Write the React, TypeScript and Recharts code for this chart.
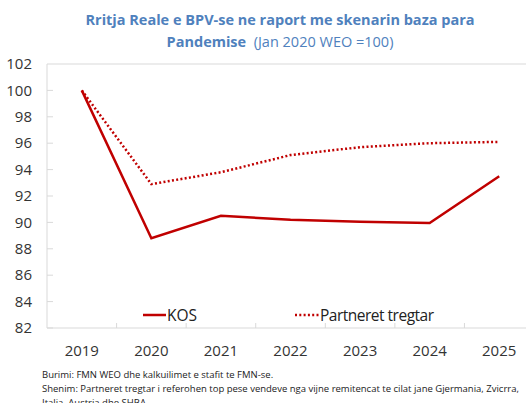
import { LineChart, Line, XAxis, YAxis, ReferenceLine } from 'recharts'

const years = [2019, 2020, 2021, 2022, 2023, 2024, 2025]
const kos = [100, 88.8, 90.5, 90.2, 90.05, 89.95, 93.5]
const partneret = [100, 92.9, 93.8, 95.1, 95.7, 96.0, 96.1]
const yTicks = [82, 84, 86, 88, 90, 92, 94, 96, 98, 100, 102]

const data = years.map((year, i) => ({ year, kos: kos[i], partneret: partneret[i] }))

const RED = '#c00000'
const AXIS = '#d9d9d9'
const FONT = '"Open Sans", sans-serif'

// tick i majtë: etiketa + vija e vogël brenda boshtit
function YTick(props: { x?: number; y?: number; payload?: { value: number } }) {
  const { x = 0, y = 0, payload } = props
  return (
    <g>
      {payload && payload.value !== 102 && (
        <line x1={x + 15} x2={x + 21} y1={y} y2={y} stroke={AXIS} />
      )}
      <text x={x} y={y} dy="0.35em" textAnchor="end" fill="#333" fontSize={15} fontFamily={FONT}>
        {payload?.value}
      </text>
    </g>
  )
}

// tick poshtë: etiketa ne mes, vija mes kategorive
function XTick(props: { x?: number; y?: number; payload?: { value: number } }) {
  const { x = 0, y = 0, payload } = props
  return (
    <g>
      <line x1={x + 34.8} x2={x + 34.8} y1={y - 17} y2={y - 22} stroke={AXIS} />
      <text x={x} y={y} dy="0.71em" textAnchor="middle" fill="#333" fontSize={15} fontFamily={FONT}>
        {payload?.value}
      </text>
    </g>
  )
}

function ChartLegend() {
  return (
    <div style={{ position: 'absolute', left: 0, top: 304, width: 526, height: 22, fontFamily: FONT, fontSize: 15.5, color: '#222' }}>
      <div style={{ position: 'absolute', left: 143, top: 0, display: 'flex', alignItems: 'center' }}>
        <svg width={23} height={10}>
          <line x1={0} x2={23} y1={5} y2={5} stroke={RED} strokeWidth={2.5} />
        </svg>
        <span style={{ marginLeft: 1 }}>KOS</span>
      </div>
      <div style={{ position: 'absolute', left: 295, top: 0, display: 'flex', alignItems: 'center' }}>
        <svg width={24} height={10}>
          <line x1={0} x2={24} y1={5} y2={5} stroke={RED} strokeWidth={2.5} strokeDasharray="2 2.3" />
        </svg>
        <span style={{ marginLeft: 1, letterSpacing: -0.5 }}>Partneret tregtar</span>
      </div>
    </div>
  )
}

export default function App() {
  return (
    <div style={{ position: 'fixed', left: 0, top: 0, width: 526, height: 403, overflow: 'hidden', background: '#fff' }}>
      <div
        style={{
          position: 'absolute',
          left: 60,
          width: 440,
          top: 9,
          textAlign: 'center',
          fontFamily: FONT,
          fontSize: 14.5,
          lineHeight: '22px',
          color: '#4f81bd',
        }}
      >
        <div style={{ fontWeight: 700 }}>Rritja Reale e BPV-se ne raport me skenarin baza para</div>
        <div>
          <span style={{ fontWeight: 700 }}>Pandemise</span>
          <span>&nbsp; (Jan 2020 WEO =100)</span>
        </div>
      </div>
      <div style={{ position: 'absolute', left: 0, top: 0 }}>
        <LineChart width={560} height={360} data={data} margin={{ top: 64, right: 26, left: 0, bottom: 0 }}>
          <XAxis
            dataKey="year"
            type="number"
            domain={[2018.5, 2025.5]}
            ticks={years}
            height={32}
            tickSize={0}
            tickMargin={17}
            tickLine={false}
            axisLine={{ stroke: AXIS }}
            tick={<XTick />}
          />
          <YAxis
            domain={[82, 102]}
            ticks={yTicks}
            width={47}
            tickSize={0}
            tickMargin={15}
            tickLine={false}
            axisLine={{ stroke: AXIS }}
            tick={<YTick />}
            interval={0}
          />
          <ReferenceLine y={102} stroke={AXIS} />
          <Line
            type="linear"
            dataKey="kos"
            name="KOS"
            stroke={RED}
            strokeWidth={2.5}
            dot={false}
            isAnimationActive={false}
          />
          <Line
            type="linear"
            dataKey="partneret"
            name="Partneret tregtar"
            stroke={RED}
            strokeWidth={2.5}
            strokeDasharray="2 2.3"
            dot={false}
            isAnimationActive={false}
          />
        </LineChart>
      </div>
      <ChartLegend />
      <div
        style={{
          position: 'absolute',
          left: 42,
          top: 368,
          fontFamily: FONT,
          fontSize: 9.5,
          lineHeight: '14px',
          color: '#222',
          whiteSpace: 'nowrap',
        }}
      >
        <div>Burimi: FMN WEO dhe kalkuilimet e stafit te FMN-se.</div>
        <div>Shenim: Partneret tregtar i referohen top pese vendeve nga vijne remitencat te cilat jane Gjermania, Zvicrra,</div>
        <div>Italia, Austria dhe SHBA.</div>
      </div>
    </div>
  )
}
